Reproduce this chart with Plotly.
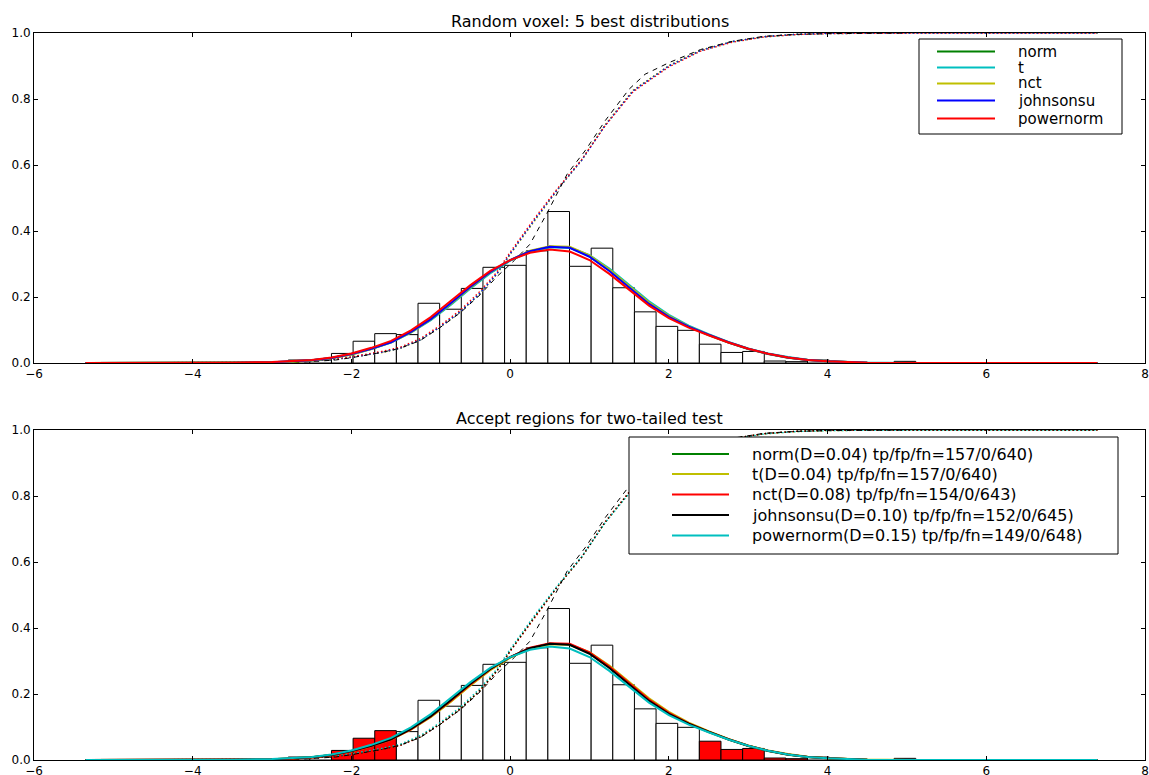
import plotly.graph_objects as go

# histogram of the voxel (density), equal-width bins
bin_start = -2.797
bin_width = 0.2727
hist_density = [0.009, 0.009, 0.029, 0.066, 0.089, 0.086, 0.181, 0.163, 0.226, 0.290,
                0.296, 0.340, 0.459, 0.293, 0.348, 0.228, 0.155, 0.111, 0.099, 0.057,
                0.032, 0.035, 0.006, 0.004, 0.009, 0.0, 0.0, 0.0, 0.005]
# bins outside the accept region (lower panel, red)
tail_bins = [0, 0, 1, 1, 1, 0, 0, 0, 0, 0,
             0, 0, 0, 0, 0, 0, 0, 0, 0, 1,
             1, 1, 1, 1, 0, 0, 0, 0, 0]

dist_names = ["norm", "t", "nct", "johnsonsu", "powernorm"]
ks_d = ["0.04", "0.04", "0.08", "0.10", "0.15"]
tp_fp_fn = ["157/0/640", "157/0/640", "154/0/643", "152/0/645", "149/0/648"]

# fitted pdfs
pdf_x = [-5.35, -4.5, -4.0, -3.5, -3.0, -2.75, -2.5, -2.25, -2.0, -1.75, -1.5, -1.25,
         -1.0, -0.75, -0.5, -0.25, 0.0, 0.25, 0.5, 0.75, 1.0, 1.25, 1.5, 1.75, 2.0,
         2.25, 2.5, 2.75, 3.0, 3.25, 3.5, 3.75, 4.0, 4.5, 5.0, 6.0, 7.4]
pdf_norm = [0, 0, 0.0001, 0.0006, 0.002, 0.004, 0.008, 0.015, 0.027, 0.043, 0.064, 0.094,
            0.132, 0.178, 0.228, 0.274, 0.311, 0.338, 0.352, 0.350, 0.324, 0.282, 0.232,
            0.182, 0.142, 0.110, 0.085, 0.062, 0.042, 0.027, 0.016, 0.009, 0.005, 0.001,
            0.0002, 0, 0]
pdf_t = [0, 0, 0.0002, 0.0008, 0.0025, 0.0045, 0.008, 0.015, 0.026, 0.042, 0.062, 0.092,
         0.130, 0.176, 0.226, 0.272, 0.310, 0.337, 0.351, 0.350, 0.327, 0.286, 0.237,
         0.187, 0.146, 0.113, 0.087, 0.064, 0.044, 0.029, 0.018, 0.010, 0.005, 0.0012,
         0.0003, 0, 0]
pdf_nct = [0, 0, 0.0002, 0.0007, 0.0022, 0.004, 0.0075, 0.014, 0.026, 0.042, 0.063, 0.093,
           0.132, 0.179, 0.229, 0.275, 0.312, 0.340, 0.354, 0.352, 0.326, 0.283, 0.233,
           0.183, 0.143, 0.111, 0.086, 0.063, 0.043, 0.028, 0.017, 0.009, 0.005, 0.001,
           0.0003, 0, 0]
pdf_johnsonsu = [0, 0, 0.0002, 0.0008, 0.0025, 0.0045, 0.008, 0.015, 0.027, 0.043, 0.063,
                 0.094, 0.133, 0.181, 0.231, 0.276, 0.312, 0.339, 0.352, 0.349, 0.322,
                 0.279, 0.229, 0.179, 0.140, 0.110, 0.086, 0.063, 0.043, 0.028, 0.017,
                 0.009, 0.005, 0.001, 0.0003, 0, 0]
pdf_powernorm = [0, 0, 0.0003, 0.001, 0.003, 0.005, 0.009, 0.017, 0.029, 0.046, 0.067,
                 0.099, 0.139, 0.188, 0.236, 0.279, 0.312, 0.334, 0.344, 0.338, 0.312,
                 0.270, 0.222, 0.174, 0.136, 0.107, 0.084, 0.062, 0.043, 0.028, 0.017,
                 0.009, 0.005, 0.001, 0.0003, 0, 0]

# fitted cdfs
cdf_x = [-5.35, -4.0, -3.0, -2.5, -2.2, -2.0, -1.6, -1.385, -1.133, -0.88, -0.629, -0.377,
         -0.166, 0.0, 0.3, 0.6, 0.9, 1.2, 1.55, 2.0, 2.4, 2.8, 3.2, 3.6, 4.0, 4.5, 5.0,
         6.0, 7.4]
cdf_norm = [0, 0.0003, 0.002, 0.006, 0.011, 0.017, 0.033, 0.045, 0.070, 0.110, 0.155,
            0.212, 0.270, 0.330, 0.430, 0.526, 0.614, 0.722, 0.826, 0.901, 0.948, 0.974,
            0.989, 0.996, 0.999, 1.0, 1.0, 1.0, 1.0]
cdf_t = [0, 0.0004, 0.0025, 0.007, 0.012, 0.018, 0.034, 0.046, 0.071, 0.111, 0.156,
         0.213, 0.271, 0.331, 0.431, 0.527, 0.615, 0.721, 0.824, 0.899, 0.946, 0.973,
         0.988, 0.995, 0.998, 0.999, 1.0, 1.0, 1.0]
cdf_nct = [0, 0.0003, 0.002, 0.006, 0.011, 0.017, 0.032, 0.044, 0.069, 0.109, 0.154,
           0.211, 0.269, 0.329, 0.429, 0.526, 0.615, 0.723, 0.827, 0.901, 0.948, 0.974,
           0.989, 0.996, 0.999, 1.0, 1.0, 1.0, 1.0]
cdf_johnsonsu = [0, 0.0003, 0.002, 0.006, 0.011, 0.017, 0.033, 0.045, 0.070, 0.110, 0.155,
                 0.212, 0.271, 0.331, 0.431, 0.527, 0.614, 0.721, 0.825, 0.900, 0.947,
                 0.974, 0.989, 0.996, 0.999, 1.0, 1.0, 1.0, 1.0]
cdf_powernorm = [0, 0.0005, 0.003, 0.008, 0.013, 0.019, 0.036, 0.048, 0.074, 0.114, 0.160,
                 0.218, 0.276, 0.336, 0.436, 0.530, 0.616, 0.720, 0.822, 0.897, 0.945,
                 0.972, 0.988, 0.995, 0.998, 0.999, 1.0, 1.0, 1.0]

# empirical cdf of the voxel
ecdf_x = [-2.72, -2.4, -2.2, -2.0, -1.6, -1.385, -1.133, -0.88, -0.629, -0.377, -0.166,
          0.05, 0.25, 0.46, 0.72, 0.95, 1.2, 1.5, 1.7, 2.0, 2.4, 2.8, 3.2, 3.6, 4.0, 5.0]
ecdf_y = [0.001, 0.005, 0.009, 0.016, 0.033, 0.045, 0.068, 0.108, 0.152, 0.207, 0.262,
          0.310, 0.360, 0.452, 0.573, 0.645, 0.735, 0.830, 0.875, 0.910, 0.950, 0.975,
          0.990, 0.996, 0.998, 1.0]

pdfs = [pdf_norm, pdf_t, pdf_nct, pdf_johnsonsu, pdf_powernorm]
cdfs = [cdf_norm, cdf_t, cdf_nct, cdf_johnsonsu, cdf_powernorm]

colors_top = ["#008000", "#00bfbf", "#bfbf00", "#0000ff", "#ff0000"]
colors_bot = ["#008000", "#bfbf00", "#ff0000", "#000000", "#00bfbf"]

W, H = 1149, 775
ML, MR, MT, MB = 34, 4, 33, 15


def px_x(px):
    return (px - ML) / (W - ML - MR)


def px_y(py):
    return (H - MB - py) / (H - MT - MB)


centers = [bin_start + bin_width * (i + 0.5) for i in range(len(hist_density))]

fig = go.Figure()
shapes = []
annotations = []

panels = [
    ("x", "y", colors_top, dist_names, 15,
     (919, 39, 1122, 134), (937, 995), 1016, [51.5, 67.5, 83.5, 100.5, 118.5]),
    ("x2", "y2", colors_bot,
     [f"{n}(D={d}) tp/fp/fn={s})" for n, d, s in zip(dist_names, ks_d, tp_fp_fn)], 16,
     (629, 437, 1118, 554), (672, 729), 750, [454, 474, 494.5, 515, 535.5]),
]

for row, (xa, ya, cols, labels, fsize, box, line_x, text_x, rows_y) in enumerate(panels):
    if row == 0:
        bar_cols = ["white"] * len(hist_density)
    else:
        bar_cols = ["red" if f else "white" for f in tail_bins]
    fig.add_trace(go.Bar(x=centers, y=hist_density, width=bin_width,
                         marker=dict(color=bar_cols, line=dict(color="black", width=1)),
                         showlegend=False, xaxis=xa, yaxis=ya))
    for i in range(len(dist_names)):
        fig.add_trace(go.Scatter(x=cdf_x, y=cdfs[i], mode="lines",
                                 line=dict(color=cols[i], width=1.3, dash="1.5px,2.5px"),
                                 showlegend=False, xaxis=xa, yaxis=ya))
    fig.add_trace(go.Scatter(x=ecdf_x, y=ecdf_y, mode="lines",
                             line=dict(color="black", width=1, dash="5px,5px"),
                             showlegend=False, xaxis=xa, yaxis=ya))
    for i in range(len(dist_names)):
        fig.add_trace(go.Scatter(x=pdf_x, y=pdfs[i], mode="lines", name=labels[i],
                                 line=dict(color=cols[i], width=2),
                                 showlegend=False, xaxis=xa, yaxis=ya))

    # legend box drawn by hand (matplotlib-style spacing)
    x0, y0, x1, y1 = box
    shapes.append(dict(type="rect", xref="paper", yref="paper", layer="above",
                       x0=px_x(x0), x1=px_x(x1), y0=px_y(y1), y1=px_y(y0),
                       fillcolor="white", line=dict(color="black", width=1)))
    for i, lab in enumerate(labels):
        shapes.append(dict(type="line", xref="paper", yref="paper", layer="above",
                           x0=px_x(line_x[0]), x1=px_x(line_x[1]),
                           y0=px_y(rows_y[i]), y1=px_y(rows_y[i]),
                           line=dict(color=cols[i], width=2)))
        annotations.append(dict(text=lab, x=px_x(text_x), y=px_y(rows_y[i]),
                                xref="paper", yref="paper", xanchor="left",
                                yanchor="middle", showarrow=False,
                                font=dict(size=fsize)))

annotations.append(dict(text="Random voxel: 5 best distributions", x=0.5, y=px_y(21),
                        xref="paper", yref="paper", showarrow=False,
                        yanchor="middle", font=dict(size=16)))
annotations.append(dict(text="Accept regions for two-tailed test", x=0.5, y=px_y(418),
                        xref="paper", yref="paper", showarrow=False,
                        yanchor="middle", font=dict(size=16)))

axis_style = dict(showline=True, linecolor="black", linewidth=1, mirror="ticks",
                  ticks="inside", ticklen=4, tickcolor="black", showgrid=False,
                  zeroline=False, automargin=False,
                  tickfont=dict(size=12, color="black"))

fig.update_layout(
    width=W, height=H,
    margin=dict(l=ML, r=MR, t=MT, b=MB, autoexpand=False),
    paper_bgcolor="white", plot_bgcolor="white",
    font=dict(family="DejaVu Sans", color="black"),
    barmode="overlay",
    showlegend=False,
    xaxis=dict(range=[-6, 8], dtick=2, anchor="y", **axis_style),
    yaxis=dict(range=[0, 1], dtick=0.2, tickformat=".1f", domain=[px_y(363), 1.0],
               anchor="x", **axis_style),
    xaxis2=dict(range=[-6, 8], dtick=2, anchor="y2", **axis_style),
    yaxis2=dict(range=[0, 1], dtick=0.2, tickformat=".1f", domain=[0, px_y(430)],
                anchor="x2", **axis_style),
    shapes=shapes,
    annotations=annotations,
)

# the page body has a default 8px margin; drop it so the figure fills the window
fig.write_html("out.html", config={"displayModeBar": False},
               post_script="document.body.style.margin='0px';")
